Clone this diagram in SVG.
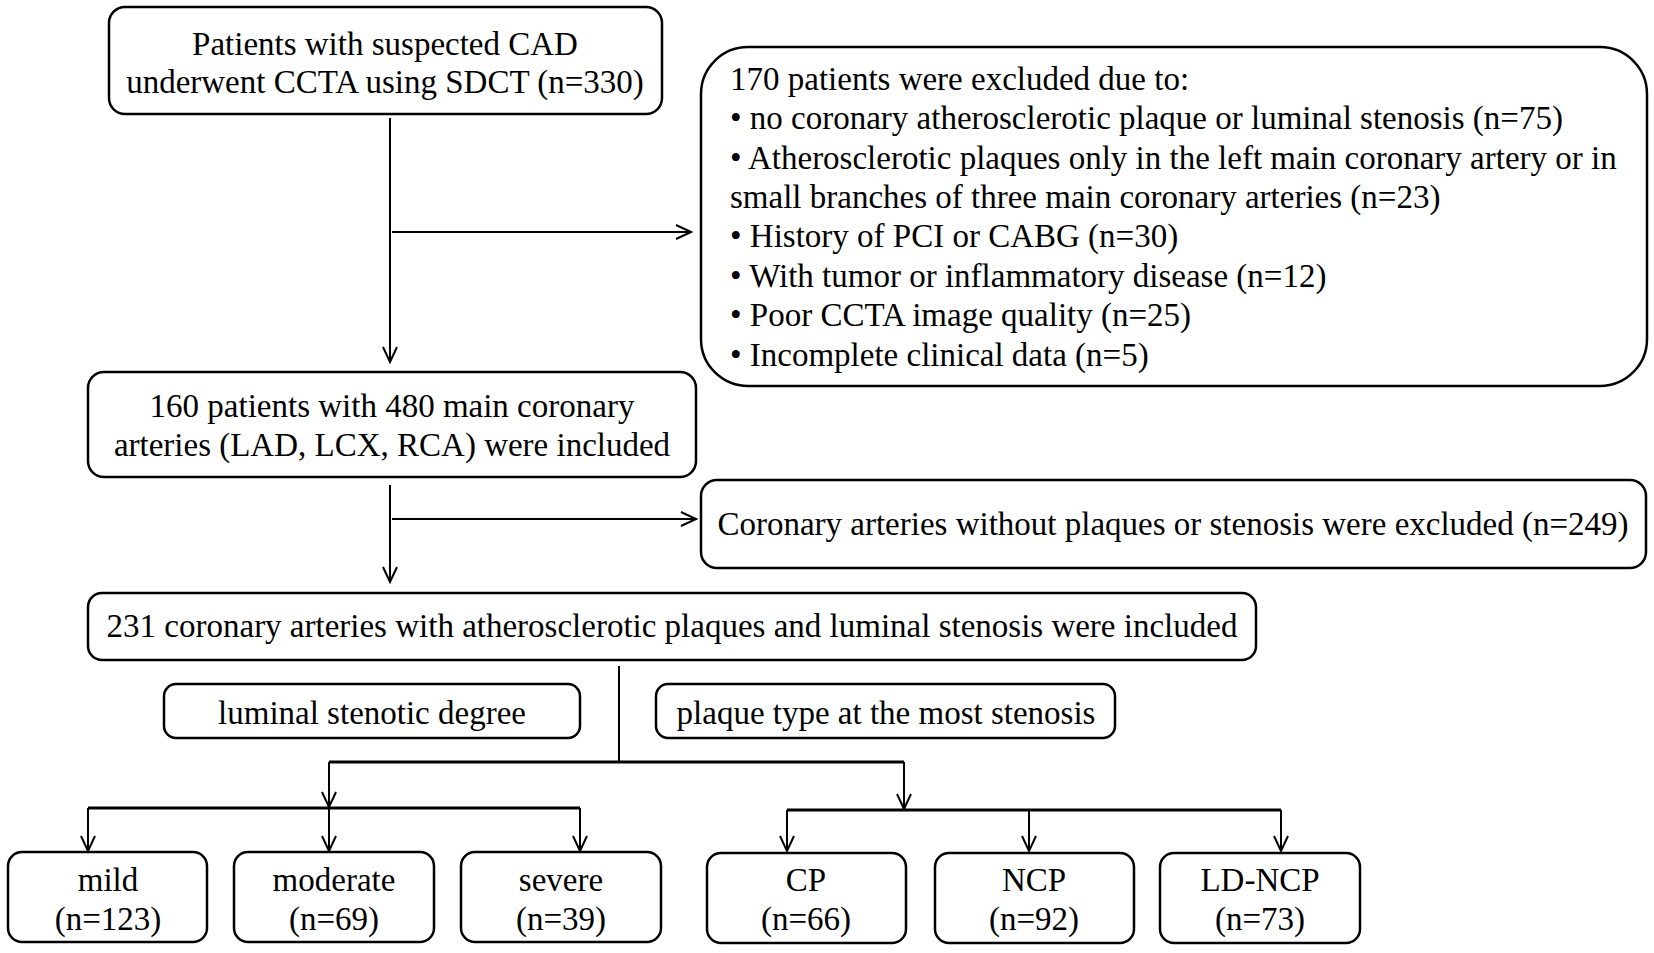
<svg xmlns="http://www.w3.org/2000/svg" width="1654" height="953" viewBox="0 0 1654 953">
<defs>
<marker id="ah" markerUnits="userSpaceOnUse" viewBox="-18 -10 20 20" markerWidth="20" markerHeight="20" refX="0" refY="0" orient="auto"><path d="M-15,-7 L0,0 L-15,7" fill="none" stroke="#000" stroke-width="2"/></marker>
</defs>
<style>
.box{fill:#fff;stroke:#000;stroke-width:2.5}
text{font-family:"Liberation Serif","Times New Roman",serif;font-size:33px;fill:#000}
.c{text-anchor:middle}
.ln{fill:none;stroke:#000;stroke-width:2}
.thick{stroke-width:3}
</style>
<rect width="1654" height="953" fill="#fff"/>
<g id="connectors">
<path class="ln" d="M390,118 V362" marker-end="url(#ah)"/>
<path class="ln" d="M392,232 H691" marker-end="url(#ah)"/>
<path class="ln" d="M390,485 V582" marker-end="url(#ah)"/>
<path class="ln" d="M392,519 H696" marker-end="url(#ah)"/>
<path class="ln" d="M619,666 V762"/>
<path class="ln thick" d="M329,762 H904"/>
<path class="ln" d="M329,762 V807" marker-end="url(#ah)"/>
<path class="ln" d="M904,762 V809" marker-end="url(#ah)"/>
<path class="ln thick" d="M88,808 H580"/>
<path class="ln thick" d="M787,810 H1281"/>
<path class="ln" d="M88,808 V851" marker-end="url(#ah)"/>
<path class="ln" d="M329,808 V851" marker-end="url(#ah)"/>
<path class="ln" d="M580,808 V851" marker-end="url(#ah)"/>
<path class="ln" d="M787,810 V851" marker-end="url(#ah)"/>
<path class="ln" d="M1029,810 V851" marker-end="url(#ah)"/>
<path class="ln" d="M1281,810 V851" marker-end="url(#ah)"/>
</g>
<g id="n-start">
<rect class="box" x="109" y="7" width="553" height="107" rx="16"/>
<text class="c" x="385" y="55">Patients with suspected CAD</text>
<text class="c" x="385" y="93">underwent CCTA using SDCT (n=330)</text>
</g>
<g id="n-excluded1">
<rect class="box" x="701" y="47" width="946" height="339" rx="47"/>
<text x="730" y="90">170 patients were excluded due to:</text>
<text x="730" y="129">• no coronary atherosclerotic plaque or luminal stenosis (n=75)</text>
<text x="730" y="169">• Atherosclerotic plaques only in the left main coronary artery or in</text>
<text x="730" y="208">small branches of three main coronary arteries (n=23)</text>
<text x="730" y="247">• History of PCI or CABG (n=30)</text>
<text x="730" y="287">• With tumor or inflammatory disease (n=12)</text>
<text x="730" y="326">• Poor CCTA image quality (n=25)</text>
<text x="730" y="366">• Incomplete clinical data (n=5)</text>
</g>
<g id="n-included160">
<rect class="box" x="88" y="372" width="608" height="105" rx="16"/>
<text class="c" x="392" y="417">160 patients with 480 main coronary</text>
<text class="c" x="392" y="456">arteries (LAD, LCX, RCA) were included</text>
</g>
<g id="n-excluded2">
<rect class="box" x="701" y="480" width="945" height="88" rx="16"/>
<text class="c" x="1173" y="535">Coronary arteries without plaques or stenosis were excluded (n=249)</text>
</g>
<g id="n-included231">
<rect class="box" x="88" y="593" width="1168" height="67" rx="14"/>
<text class="c" x="672" y="637">231 coronary arteries with atherosclerotic plaques and luminal stenosis were included</text>
</g>
<g id="n-stenotic">
<rect class="box" x="164" y="684" width="416" height="54" rx="12"/>
<text class="c" x="372" y="724">luminal stenotic degree</text>
</g>
<g id="n-plaquetype">
<rect class="box" x="656" y="684" width="459" height="54" rx="12"/>
<text class="c" x="886" y="724">plaque type at the most stenosis</text>
</g>
<g id="n-mild">
<rect class="box" x="8" y="852" width="199" height="90" rx="14"/>
<text class="c" x="108" y="891">mild</text>
<text class="c" x="108" y="930">(n=123)</text>
</g>
<g id="n-moderate">
<rect class="box" x="234" y="852" width="200" height="90" rx="14"/>
<text class="c" x="334" y="891">moderate</text>
<text class="c" x="334" y="930">(n=69)</text>
</g>
<g id="n-severe">
<rect class="box" x="461" y="852" width="200" height="90" rx="14"/>
<text class="c" x="561" y="891">severe</text>
<text class="c" x="561" y="930">(n=39)</text>
</g>
<g id="n-cp">
<rect class="box" x="707" y="853" width="199" height="90" rx="14"/>
<text class="c" x="806" y="891">CP</text>
<text class="c" x="806" y="930">(n=66)</text>
</g>
<g id="n-ncp">
<rect class="box" x="935" y="853" width="199" height="90" rx="14"/>
<text class="c" x="1034" y="891">NCP</text>
<text class="c" x="1034" y="930">(n=92)</text>
</g>
<g id="n-ldncp">
<rect class="box" x="1160" y="853" width="200" height="90" rx="14"/>
<text class="c" x="1260" y="891">LD-NCP</text>
<text class="c" x="1260" y="930">(n=73)</text>
</g>
</svg>
